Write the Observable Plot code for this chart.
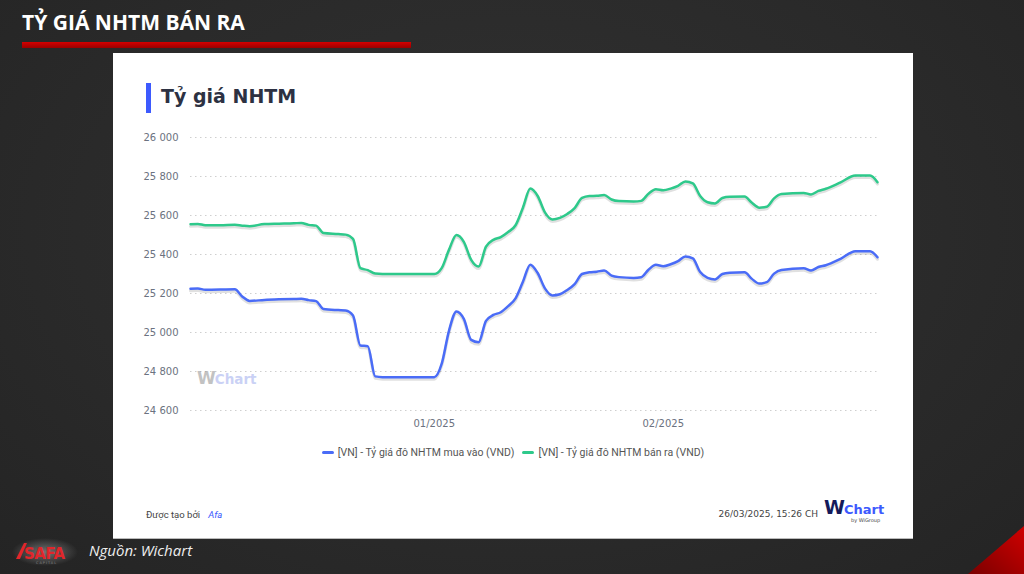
<!DOCTYPE html>
<html>
<head>
<meta charset="utf-8">
<script src="https://cdn.jsdelivr.net/npm/d3@7"></script>
<script src="https://cdn.jsdelivr.net/npm/@observablehq/plot@0.6"></script>
<style>
  html, body { margin: 0; padding: 0; width: 1024px; height: 574px; overflow: hidden; }
  body {
    position: relative;
    background: radial-gradient(ellipse at 50% 40%, #313131 0%, #2a2a2a 60%, #242424 100%);
    font-family: "DejaVu Sans", sans-serif;
  }
  .abs { position: absolute; }
  #title { left: 22px; top: 8px; font-family: "Open Sans", sans-serif; font-weight: 700; font-size: 21px; color: #fff; line-height: 28px; white-space: nowrap; }
  #redbar { left: 22px; top: 42px; width: 389px; height: 6px; background: linear-gradient(#d40000, #9a0000); }
  #panel { left: 113px; top: 53px; width: 800px; height: 485px; background: #fff; border-bottom: 1px solid #bbb; }
  #accent { left: 146px; top: 83px; width: 5px; height: 30px; background: #3d5afe; }
  #sub { left: 161px; top: 83px; font-weight: 700; font-size: 19px; color: #2d3142; line-height: 26px; white-space: nowrap; }
  #chart { left: 113px; top: 125px; }
  #legend { left: 113px; width: 800px; top: 446px; text-align: center; font-family: Roboto, sans-serif; font-size: 10.5px; color: #555; white-space: nowrap; }
  #legend span.sw { display: inline-block; width: 12px; height: 3px; border-radius: 2px; vertical-align: middle; margin: 0 4px 2px 0; }
  #legend span.item { margin: 0 4px; }
  #made { left: 146px; top: 509px; font-family: Roboto, sans-serif; font-size: 9.5px; color: #444; white-space: nowrap; }
  #made i { color: #3d5afe; margin-left: 8px; }
  #stamp { left: 600px; width: 218px; text-align: right; top: 509px; font-family: "DejaVu Sans", sans-serif; font-size: 9px; color: #444; white-space: nowrap; }
  #wlogo { left: 824px; top: 496px; font-family: "DejaVu Sans", sans-serif; font-weight: 700; white-space: nowrap; }
  #wlogo .w { font-size: 19px; color: #141a5a; letter-spacing: -1px; }
  #wlogo .c { font-size: 13px; color: #3d5afe; }
  #wlogo .by { position: absolute; left: 27px; top: 21px; font-size: 5px; font-weight: 400; color: #444; }
  #wmark { left: 197px; top: 368px; font-family: "DejaVu Sans", sans-serif; font-weight: 700; white-space: nowrap; opacity: 0.6; }
  #wmark .w { font-size: 17px; color: #9a9a9a; letter-spacing: -1px; }
  #wmark .c { font-size: 13.5px; color: #a8b4f0; }
  #src { left: 89px; top: 540px; font-family: "Open Sans", sans-serif; font-style: italic; font-size: 15px; color: #eee; white-space: nowrap; }
  #logo { left: 12px; top: 538px; width: 66px; height: 28px; }
  #corner { left: 0; top: 0; }
</style>
</head>
<body>
<div id="title" class="abs">TỶ GIÁ NHTM BÁN RA</div>
<div id="redbar" class="abs"></div>
<div id="panel" class="abs"></div>
<div id="accent" class="abs"></div>
<div id="sub" class="abs">Tỷ giá NHTM</div>
<div id="chart" class="abs"></div>
<div id="wmark" class="abs"><span class="w">W</span><span class="c">Chart</span></div>
<div id="legend" class="abs"></div>
<div id="made" class="abs">Được tạo bởi<i>Afa</i></div>
<div id="stamp" class="abs">26/03/2025, 15:26 CH</div>
<div id="wlogo" class="abs"><span class="w">W</span><span class="c">Chart</span><span class="by">by WiGroup</span></div>
<svg id="logo" class="abs" viewBox="0 0 66 28">
  <defs>
    <radialGradient id="glow" cx="50%" cy="50%" r="50%">
      <stop offset="0%" stop-color="#ffffff" stop-opacity="0.35"/>
      <stop offset="100%" stop-color="#ffffff" stop-opacity="0"/>
    </radialGradient>
  </defs>
  <ellipse cx="33" cy="14" rx="33" ry="14" fill="url(#glow)"/>
  <path d="M4 21 L12 5 L15 5 L8 21 Z" fill="#e0262b"/>
  <text x="12" y="21" font-family="DejaVu Sans" font-weight="700" font-size="15" fill="#e0262b" letter-spacing="-0.5">SAFA</text>
  <text x="24" y="26" font-family="DejaVu Sans" font-size="3.5" fill="#888" letter-spacing="1">CAPITAL</text>
</svg>
<div id="src" class="abs">Nguồn: Wichart</div>
<svg id="corner" class="abs" width="1024" height="574">
  <defs>
    <linearGradient id="rg" x1="0" y1="1" x2="1" y2="0">
      <stop offset="0%" stop-color="#7a0000"/>
      <stop offset="100%" stop-color="#d00000"/>
    </linearGradient>
  </defs>
  <polygon points="968,574 1024,526 1024,574" fill="url(#rg)"/>
</svg>
<script>
const dates = [
  "2024-11-29","2024-11-30","2024-12-01","2024-12-03","2024-12-05","2024-12-06","2024-12-07","2024-12-09",
  "2024-12-11","2024-12-13","2024-12-14","2024-12-15","2024-12-16","2024-12-17","2024-12-19","2024-12-20",
  "2024-12-21","2024-12-22","2024-12-23","2024-12-24","2024-12-25","2025-01-01","2025-01-02","2025-01-03",
  "2025-01-04","2025-01-05","2025-01-06","2025-01-07","2025-01-08","2025-01-09","2025-01-10","2025-01-11",
  "2025-01-12","2025-01-13","2025-01-14","2025-01-15","2025-01-16","2025-01-17","2025-01-18","2025-01-19",
  "2025-01-20","2025-01-21","2025-01-22","2025-01-23","2025-01-24","2025-01-25","2025-01-26","2025-01-28",
  "2025-01-29","2025-01-30","2025-01-31","2025-02-01","2025-02-02","2025-02-03","2025-02-04","2025-02-05",
  "2025-02-06","2025-02-07","2025-02-08","2025-02-09","2025-02-10","2025-02-12","2025-02-13","2025-02-14",
  "2025-02-15","2025-02-16","2025-02-17","2025-02-20","2025-02-21","2025-02-22","2025-02-23","2025-02-25",
  "2025-02-27","2025-03-01","2025-03-02"
];
// [VN] - Tỷ giá đô NHTM mua vào (VND)
const buy = [
  25224,25226,25219,25220,25222,25185,25162,25167,
  25170,25172,25173,25166,25161,25121,25115,25113,
  25087,24933,24930,24775,24771,24771,24839,25010,
  25108,25070,24962,24950,25060,25090,25104,25135,
  25175,25260,25348,25305,25225,25190,25196,25218,
  25248,25300,25309,25312,25318,25292,25284,25280,
  25283,25322,25347,25340,25350,25366,25390,25380,
  25310,25280,25272,25300,25306,25309,25275,25251,
  25258,25302,25321,25330,25318,25336,25345,25378,
  25417,25417,25386
];
// [VN] - Tỷ giá đô NHTM bán ra (VND)
const sell = [
  25555,25557,25550,25550,25552,25548,25545,25556,
  25558,25560,25562,25552,25548,25510,25505,25502,
  25480,25330,25320,25302,25300,25300,25330,25425,
  25500,25465,25372,25338,25440,25475,25489,25515,
  25550,25640,25738,25700,25615,25580,25588,25608,
  25638,25690,25700,25701,25705,25682,25674,25672,
  25675,25712,25735,25730,25738,25752,25775,25765,
  25700,25668,25662,25690,25696,25697,25665,25640,
  25645,25688,25710,25716,25708,25726,25737,25770,
  25805,25805,25771
];
const yTicks = [24600, 24800, 25000, 25200, 25400, 25600, 25800, 26000];
const xTicks = ["2025-01-01", "2025-02-01"];
const xDomain = ["2024-11-29", "2025-03-02"];
const seriesNames = ["[VN] - Tỷ giá đô NHTM mua vào (VND)", "[VN] - Tỷ giá đô NHTM bán ra (VND)"];
const seriesColors = ["#4a6cf7", "#2ec98b"];

const rows = dates.map((d, i) => ({date: new Date(d), buy: buy[i], sell: sell[i]}));

const chart = Plot.plot({
  width: 800,
  height: 310,
  marginLeft: 77,
  marginRight: 36,
  marginTop: 12,
  marginBottom: 25,
  style: {fontFamily: "DejaVu Sans", fontSize: "10px", background: "transparent", color: "#6b7280", overflow: "visible"},
  x: {type: "utc", domain: xDomain.map(d => new Date(d))},
  y: {domain: [24600, 26000]},
  marks: [
    Plot.gridY(yTicks, {stroke: "#cfcfcf", strokeOpacity: 1, strokeWidth: 1, strokeDasharray: "1.5,3.5"}),
    Plot.axisY(yTicks, {tickSize: 0, tickPadding: 12, label: null, fill: "#6b7280",
      tickFormat: d => d3.format(",")(d).replace(",", " ")}),
    Plot.axisX(xTicks.map(d => new Date(d)), {tickSize: 0, tickPadding: 9, label: null, fill: "#6b7280",
      tickFormat: d3.utcFormat("%m/%Y")}),
    Plot.lineY(rows, {x: "date", y: "buy", stroke: "#000", strokeOpacity: 0.12, strokeWidth: 3, dy: 2, curve: "monotone-x"}),
    Plot.lineY(rows, {x: "date", y: "sell", stroke: "#000", strokeOpacity: 0.12, strokeWidth: 3, dy: 2, curve: "monotone-x"}),
    Plot.lineY(rows, {x: "date", y: "buy", stroke: seriesColors[0], strokeWidth: 2.5, curve: "monotone-x"}),
    Plot.lineY(rows, {x: "date", y: "sell", stroke: seriesColors[1], strokeWidth: 2.5, curve: "monotone-x"})
  ]
});
document.getElementById("chart").appendChild(chart);

const legend = document.getElementById("legend");
seriesNames.forEach((name, i) => {
  const item = document.createElement("span");
  item.className = "item";
  const sw = document.createElement("span");
  sw.className = "sw";
  sw.style.background = seriesColors[i];
  item.appendChild(sw);
  item.appendChild(document.createTextNode(name));
  legend.appendChild(item);
});
</script>
</body>
</html>
